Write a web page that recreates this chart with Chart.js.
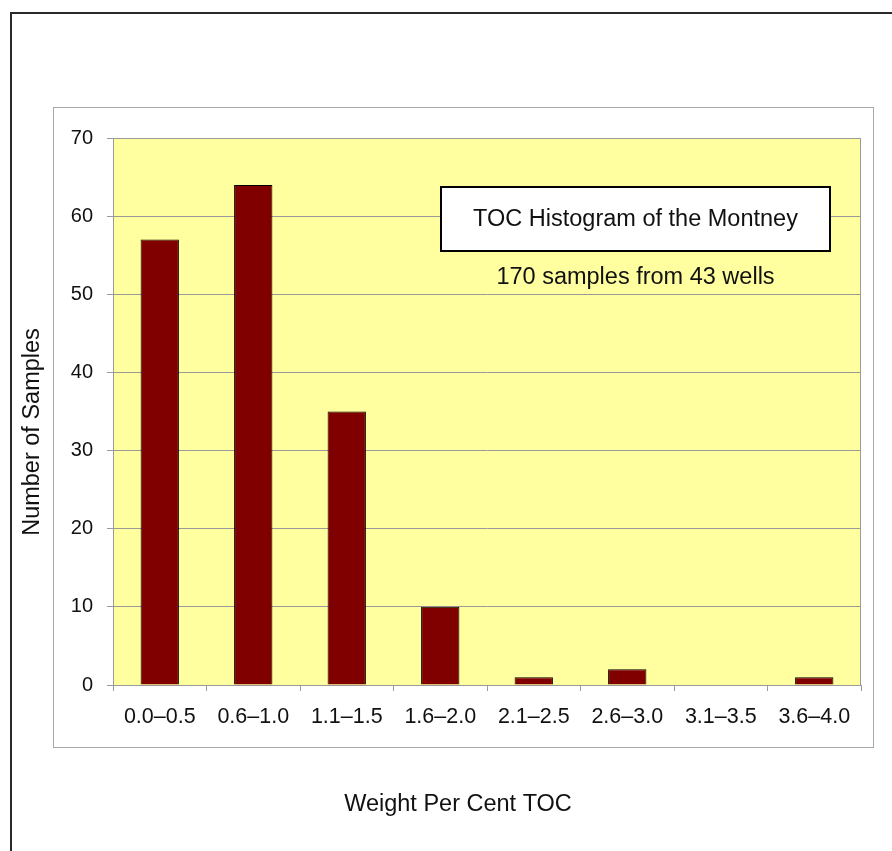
<!DOCTYPE html>
<html>
<head>
<meta charset="utf-8">
<script src="https://cdn.jsdelivr.net/npm/chart.js@4/dist/chart.umd.min.js"></script>
<style>
  html, body { margin: 0; padding: 0; background: #fff; }
  #wrap { position: relative; width: 892px; height: 851px; }
</style>
</head>
<body>
<div id="wrap"><canvas id="toc"></canvas></div>
<script>
// TOC histogram data
const binLabels = ["0.0\u20130.5","0.6\u20131.0","1.1\u20131.5","1.6\u20132.0","2.1\u20132.5","2.6\u20133.0","3.1\u20133.5","3.6\u20134.0"];
const sampleCounts = [57, 64, 35, 10, 1, 2, 0, 1];
const yTicks = [0, 10, 20, 30, 40, 50, 60, 70];
const boxTitle = "TOC Histogram of the Montney";
const boxSubtitle = "170 samples from 43 wells";
const xTitle = "Weight Per Cent TOC";
const yTitle = "Number of Samples";

const FONT = '"Liberation Sans", Arial, sans-serif';
const GRID = '#9a9a9a';

// frames, yellow plot area, axis titles and the annotation box
const decor = {
  id: 'decor',
  beforeDraw(chart){
    const {ctx, chartArea: a} = chart;
    ctx.save();
    ctx.fillStyle = '#fff';
    ctx.fillRect(0, 0, chart.width, chart.height);
    // outer black frame (runs off the right/bottom edge)
    ctx.strokeStyle = '#2a2a2a';
    ctx.lineWidth = 2;
    ctx.beginPath();
    ctx.moveTo(11, chart.height + 5);
    ctx.lineTo(11, 13);
    ctx.lineTo(chart.width + 5, 13);
    ctx.stroke();
    // inner gray chart frame
    ctx.strokeStyle = '#a8a8a8';
    ctx.lineWidth = 1;
    ctx.strokeRect(53.5, 107.5, 820, 640);
    // plot area
    ctx.fillStyle = '#ffff9f';
    ctx.fillRect(a.left, a.top, a.right - a.left, a.bottom - a.top);
    ctx.strokeStyle = GRID;
    ctx.strokeRect(a.left + 0.5, a.top + 0.5, a.right - a.left - 1, a.bottom - a.top);
    ctx.restore();
  },
  afterDraw(chart){
    const {ctx, chartArea: a} = chart;
    ctx.save();
    ctx.fillStyle = '#111';
    ctx.font = `23.5px ${FONT}`;
    ctx.textAlign = 'center';
    ctx.textBaseline = 'middle';
    // axis titles (offset from plot centre as in the original figure)
    ctx.fillText(xTitle, 458, 805);
    ctx.save();
    ctx.translate(33, 432);
    ctx.rotate(-Math.PI / 2);
    ctx.fillText(yTitle, 0, 0);
    ctx.restore();
    // annotation box
    const x0 = a.left + 328, x1 = a.left + 717;
    const y0 = a.top + 49, y1 = a.top + 113;
    ctx.fillStyle = '#fff';
    ctx.fillRect(x0, y0, x1 - x0, y1 - y0);
    ctx.strokeStyle = '#000';
    ctx.lineWidth = 2;
    ctx.strokeRect(x0, y0, x1 - x0, y1 - y0);
    ctx.fillStyle = '#111';
    const cx = (x0 + x1) / 2;
    ctx.fillText(boxTitle, cx, (y0 + y1) / 2 + 1);
    ctx.fillText(boxSubtitle, cx, a.top + 140);
    ctx.restore();
  }
};

new Chart(document.getElementById('toc'), {
  type: 'bar',
  data: {
    labels: binLabels,
    datasets: [{
      data: sampleCounts,
      backgroundColor: '#800000',
      borderColor: '#000',
      borderWidth: 1,
      barPercentage: 0.41,
      categoryPercentage: 1.0
    }]
  },
  options: {
    responsive: true,
    maintainAspectRatio: false,
    animation: false,
    layout: { padding: { left: 19, top: 138, right: 31, bottom: 20 } },
    plugins: { legend: { display: false }, tooltip: { enabled: false } },
    scales: {
      x: {
        grid: { drawOnChartArea: false, drawTicks: true, tickLength: 6, color: GRID },
        border: { color: GRID },
        ticks: { color: '#111', font: { family: FONT, size: 21.5 }, padding: 13, maxRotation: 0, autoSkip: false },
        afterFit(s){ s.height = 146; }
      },
      y: {
        min: 0, max: 70,
        afterBuildTicks(s){ s.ticks = yTicks.map(v => ({ value: v })); },
        grid: { color: GRID, tickLength: 6 },
        border: { color: GRID },
        ticks: { color: '#111', font: { family: FONT, size: 20 }, padding: 14 },
        afterFit(s){ s.width = 94; }
      }
    }
  },
  plugins: [decor]
});
</script>
</body>
</html>
